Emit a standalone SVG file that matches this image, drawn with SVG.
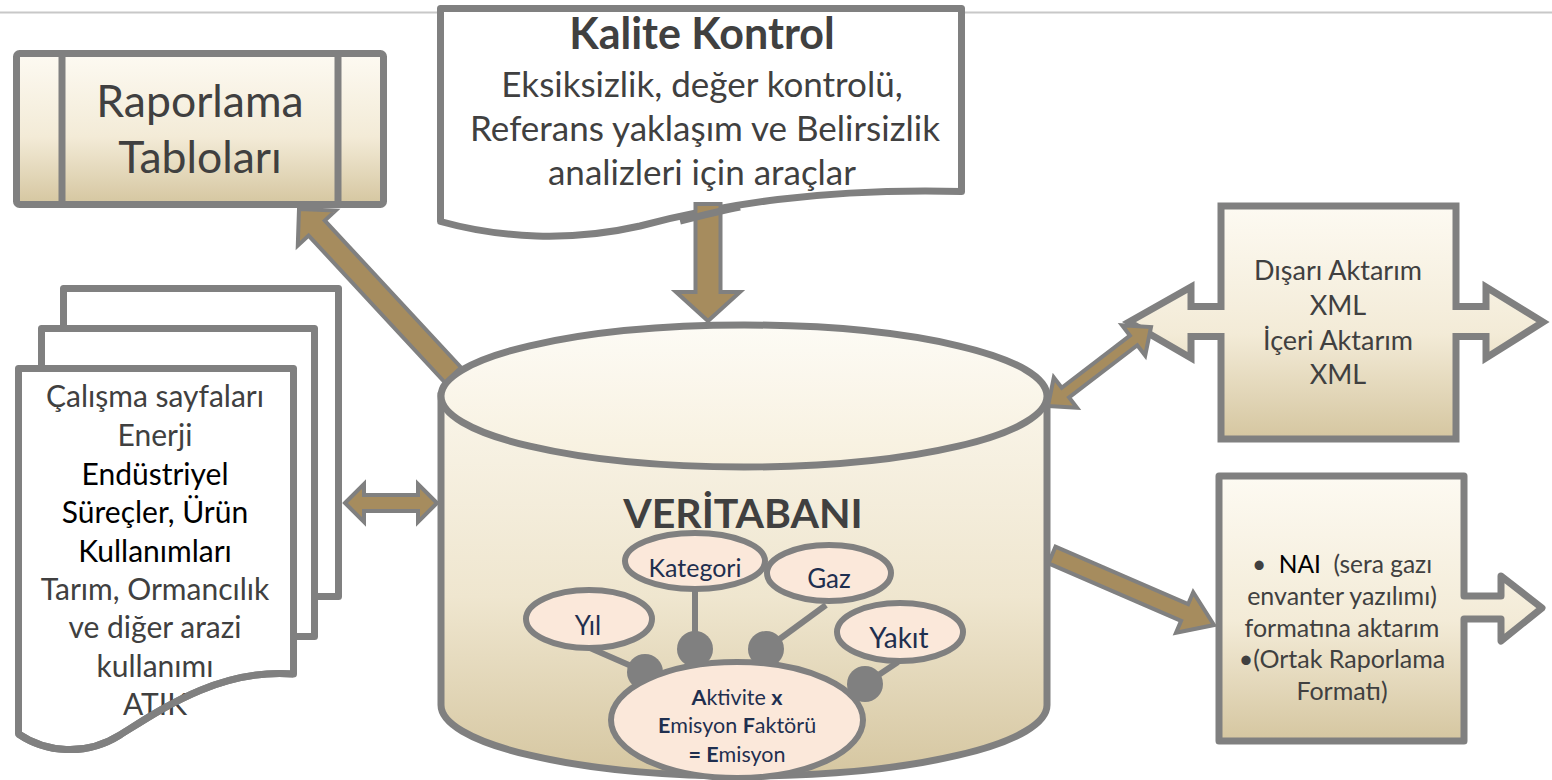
<svg xmlns="http://www.w3.org/2000/svg" width="1552" height="780" viewBox="0 0 1552 780">
<defs>
<linearGradient id="gBox" x1="0" y1="0" x2="0" y2="1">
<stop offset="0" stop-color="#fdfaf2"/>
<stop offset="0.55" stop-color="#f3ebd7"/>
<stop offset="1" stop-color="#d5c6a0"/>
</linearGradient>
<linearGradient id="gCyl" gradientUnits="userSpaceOnUse" x1="0" y1="325" x2="0" y2="778">
<stop offset="0" stop-color="#fdfaf2"/>
<stop offset="0.6" stop-color="#efe6cf"/>
<stop offset="1" stop-color="#d5c6a0"/>
</linearGradient>
<linearGradient id="gTop" x1="0" y1="0" x2="0" y2="1">
<stop offset="0" stop-color="#fdfbf5"/>
<stop offset="1" stop-color="#f7f0de"/>
</linearGradient>
<style>
.t{font-family:Lato,"Open Sans","Liberation Sans",sans-serif;fill:#404040;text-anchor:middle}
.b{font-weight:bold}
.k{fill:#000}
.n{fill:#1f2f4f}
.shape{stroke:#808080;stroke-width:7}
.page{fill:#fff;stroke:#808080;stroke-width:7;stroke-linejoin:round}
.oval{fill:#fbe8da;stroke:#808080;stroke-width:6}
.dot{fill:#808080}
.link{stroke:#808080;stroke-width:6}
.arrow{fill:#a68c5e;stroke:#808080;stroke-width:4;stroke-linejoin:miter}
</style>
</defs>
<rect width="1552" height="780" fill="#fff"/>
<line x1="0" y1="12.5" x2="1552" y2="12.5" stroke="#c8c8c8" stroke-width="2"/>

<g id="kalite">
<path class="page" d="M440.5,8.5 H961.5 V191.5 C820,188 720,205 640,226 C570,242 500,238 440.5,221.5 Z"/>
<text class="t b" x="702" y="49" font-size="43">Kalite Kontrol</text>
<text class="t" x="702" y="97" font-size="35">Eksiksizlik, değer kontrolü,</text>
<text class="t" x="705" y="141" font-size="35">Referans yaklaşım ve Belirsizlik</text>
<text class="t" x="702" y="185" font-size="35">analizleri için araçlar</text>
</g>

<g id="raporlama">
<rect class="shape" x="16.5" y="53.5" width="367" height="151" rx="3" fill="url(#gBox)"/>
<line class="shape" x1="62" y1="53.5" x2="62" y2="204.5"/>
<line class="shape" x1="338" y1="53.5" x2="338" y2="204.5"/>
<text class="t" x="200" y="117" font-size="44.5">Raporlama</text>
<text class="t" x="200" y="173" font-size="44.5">Tabloları</text>
</g>

<g id="calisma">
<rect class="page" x="63.5" y="288.5" width="275" height="308"/>
<rect class="page" x="41.5" y="328.5" width="273" height="308"/>
<path class="page" d="M18.5,368.5 H293.5 V674 C220,668 160,710 120,735 C85,757 45,752 18.5,734 Z"/>
<text class="t" x="155" y="407" font-size="30">Çalışma sayfaları</text>
<text class="t" x="155" y="446" font-size="30">Enerji</text>
<text class="t k" x="155" y="485" font-size="30">Endüstriyel</text>
<text class="t k" x="155" y="523" font-size="30">Süreçler, Ürün</text>
<text class="t k" x="155" y="562" font-size="30">Kullanımları</text>
<text class="t" x="155" y="600" font-size="30">Tarım, Ormancılık</text>
<text class="t" x="155" y="638" font-size="30">ve diğer arazi</text>
<text class="t" x="155" y="677" font-size="30">kullanımı</text>
<text class="t" x="155" y="715" font-size="30">ATIK</text>
<path d="M293.5,674 C220,668 160,710 120,735 C85,757 45,752 18.5,734" fill="none" stroke="#808080" stroke-width="7"/>
</g>

<g id="veritabani">
<path class="shape" fill="url(#gCyl)" d="M441,396 V705 A303,71 0 0 0 1047,705 V396 Z"/>
<ellipse class="shape" cx="744" cy="396" rx="303" ry="71" fill="url(#gTop)"/>
<text class="t b" x="743" y="528" font-size="41">VERİTABANI</text>
<line class="link" x1="590" y1="648" x2="645" y2="672"/>
<line class="link" x1="695" y1="590" x2="695" y2="649"/>
<line class="link" x1="826" y1="605" x2="766" y2="649"/>
<line class="link" x1="898" y1="662" x2="865" y2="684"/>
<ellipse class="oval" cx="695" cy="561" rx="70" ry="28"/>
<ellipse class="oval" cx="829" cy="573" rx="62" ry="28"/>
<ellipse class="oval" cx="589" cy="619" rx="63" ry="29"/>
<ellipse class="oval" cx="900" cy="632" rx="63" ry="29"/>
<circle class="dot" cx="645" cy="672" r="18"/>
<circle class="dot" cx="695" cy="649" r="18"/>
<circle class="dot" cx="766" cy="649" r="18"/>
<circle class="dot" cx="865" cy="684" r="18"/>
<ellipse class="oval" cx="737" cy="720" rx="126" ry="58"/>
<text class="t n" x="695" y="577" font-size="25">Kategori</text>
<text class="t n" x="829" y="588" font-size="26">Gaz</text>
<text class="t n" x="588" y="635" font-size="26">Yıl</text>
<text class="t n" x="899" y="648" font-size="28">Yakıt</text>
<text class="t n" x="737" y="705" font-size="21.5"><tspan class="b">A</tspan>ktivite <tspan class="b">x</tspan></text>
<text class="t n" x="737" y="733" font-size="21.5"><tspan class="b">E</tspan>misyon <tspan class="b">F</tspan>aktörü</text>
<text class="t n" x="737" y="762" font-size="21.5"><tspan class="b">= E</tspan>misyon</text>
</g>

<g id="aktarim">
<path class="shape" fill="url(#gBox)" d="M1221,206 H1456 V306.5 H1486 V287 L1543,322 L1486,358 V336.5 H1456 V439 H1221 V336.5 H1191 V358 L1129,322 L1191,287 V306.5 H1221 Z"/>
<text class="t" x="1338" y="280" font-size="27">Dışarı Aktarım</text>
<text class="t" x="1338" y="315" font-size="27">XML</text>
<text class="t" x="1338" y="350" font-size="27">İçeri Aktarım</text>
<text class="t" x="1338" y="384" font-size="27">XML</text>
</g>

<g id="nai">
<path class="shape" fill="url(#gBox)" stroke-linejoin="round" d="M1219,476 H1464 V596 H1501 V576 L1542,608 L1501,641 V619 H1464 V741 H1219 Z"/>
<text class="t" x="1342" y="573" font-size="24.5" xml:space="preserve">•  <tspan class="k">NAI</tspan>  (sera gazı</text>
<text class="t" x="1342" y="605" font-size="25">envanter yazılımı)</text>
<text class="t" x="1342" y="637" font-size="25">formatına aktarım</text>
<text class="t" x="1342" y="668" font-size="25">•(Ortak Raporlama</text>
<text class="t" x="1342" y="700" font-size="25">Formatı)</text>
</g>

<g id="connectors">
<polygon class="arrow" points="461.1,367.5 324.8,220.6 335.6,210.6 299,209 297.8,245.6 308.6,235.6 444.9,382.5"/>
<polygon class="arrow" points="695.5,204 720.5,204 720.5,292 740,292 708,321 676,292 695.5,292"/>
<polygon class="arrow" points="345,503 364,484 364,495 418,495 418,484 437,503 418,522 418,511 364,511 364,522"/>
<polygon class="arrow" points="1048,406 1077,407.7 1069.1,397.4 1137.3,345.2 1145.2,355.5 1151,327 1122,325.3 1129.9,335.6 1061.7,387.8 1053.8,377.5"/>
<polygon class="arrow" points="1048.5,563.3 1181.1,620.8 1176,632.7 1214,625 1193.2,592.3 1188.1,604.2 1055.5,546.7"/>
</g>

<g id="kalite-edge">
<path d="M740,207 C720,211 700,216 680,221" fill="none" stroke="#808080" stroke-width="7"/>
</g>
</svg>
